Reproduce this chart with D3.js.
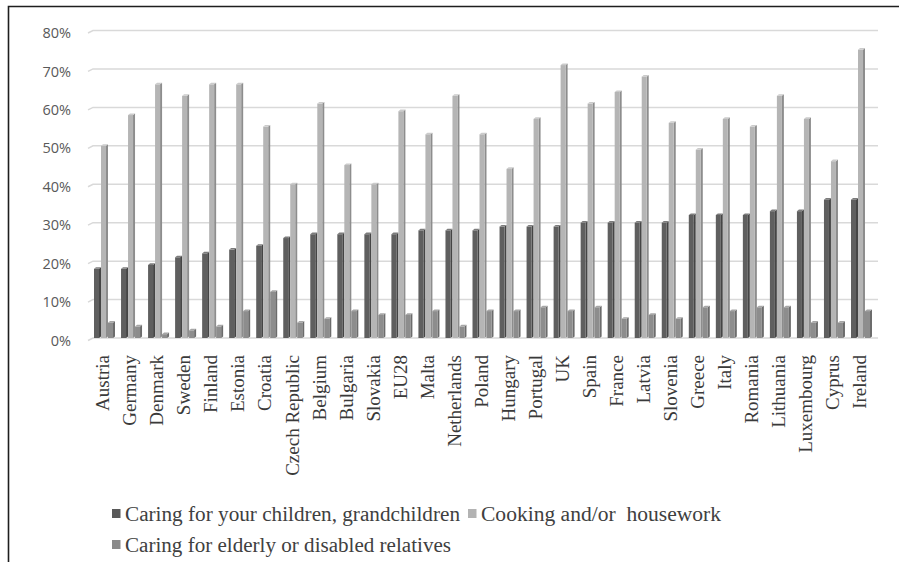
<!DOCTYPE html>
<html><head><meta charset="utf-8">
<script src="https://cdn.jsdelivr.net/npm/d3@7"></script>
<style>
body{margin:0;background:#fff}
text.serif{font-family:"Liberation Serif",serif !important}
text.sans{font-family:"Open Sans",sans-serif !important}
</style>
</head><body>
<svg id="c" width="899" height="562"></svg>
<script>
const categories = ["Austria","Germany","Denmark","Sweden","Finland","Estonia","Croatia","Czech Republic","Belgium","Bulgaria","Slovakia","EU28","Malta","Netherlands","Poland","Hungary","Portugal","UK","Spain","France","Latvia","Slovenia","Greece","Italy","Romania","Lithuania","Luxembourg","Cyprus","Ireland"];
const seriesNames = ["Caring for your children, grandchildren","Cooking and/or  housework","Caring for elderly or disabled relatives"];
const children = [18,18,19,21,22,23,24,26,27,27,27,27,28,28,28,29,29,29,30,30,30,30,32,32,32,33,33,36,36];
const cooking  = [50,58,66,63,66,66,55,40,61,45,40,59,53,63,53,44,57,71,61,64,68,56,49,57,55,63,57,46,75];
const elderly  = [4,3,1,2,3,7,12,4,5,7,6,6,7,3,7,7,8,7,8,5,6,5,8,7,8,8,4,4,7];
const yTicks = [0,10,20,30,40,50,60,70,80];
const yTickLabels = ["0%","10%","20%","30%","40%","50%","60%","70%","80%"];

const series = [children, cooking, elderly];
const palette = [
  {front:"#5f5f5f", side:"#454545", top:"#7c7c7c", legend:"#595959"},
  {front:"#b5b5b5", side:"#8d8d8d", top:"#cbcbcb", legend:"#b3b3b3"},
  {front:"#8d8d8d", side:"#6c6c6c", top:"#a6a6a6", legend:"#8a8a8a"}
];

const svg = d3.select("#c");

svg.append("path").attr("d","M8.5,562 L8.5,6.5 L899,6.5").attr("fill","none").attr("stroke","#1e1e1e").attr("stroke-width",1.6);

const y = d3.scaleLinear().domain([0,80]).range([338,30.5]);
const x = d3.scaleBand().domain(categories).range([89,877]).paddingInner(0.2234).paddingOuter(0.185);
const xs = d3.scaleBand().domain([0,1,2]).range([0,x.bandwidth()]);

yTicks.forEach(t=>{
  const yy = y(t);
  svg.append("path").attr("d",`M88,${yy+2.5} L93,${yy} L878,${yy}`)
    .attr("fill","none").attr("stroke","#d9d9d9").attr("stroke-width",1.5);
});
yTicks.forEach((t,i)=>{
  svg.append("text").attr("class","sans")
    .attr("x",71).attr("y",y(t)+2.5).attr("dy","0.35em")
    .attr("text-anchor","end")
    .attr("font-family","Open Sans").attr("font-size",14.5)
    .attr("fill","#595959")
    .text(yTickLabels[i]);
});

const dx=2, dyy=1.6;
categories.forEach((c,ci)=>{
  series.forEach((s,si)=>{
    const v = s[ci];
    const x0 = x(c)+xs(si);
    const w = xs.bandwidth()-dx;
    const yt = y(v), yb = y(0);
    const col = palette[si];
    svg.append("polygon")
      .attr("points",`${x0+w},${yt} ${x0+w+dx},${yt-dyy} ${x0+w+dx},${yb-dyy} ${x0+w},${yb}`)
      .attr("fill",col.side);
    svg.append("rect").attr("x",x0).attr("y",yt).attr("width",w).attr("height",yb-yt)
      .attr("fill",col.front);
    svg.append("polygon")
      .attr("points",`${x0},${yt} ${x0+dx},${yt-dyy} ${x0+w+dx},${yt-dyy} ${x0+w},${yt}`)
      .attr("fill",col.top);
  });
});

categories.forEach(c=>{
  svg.append("text").attr("class","serif")
    .attr("transform",`translate(${x(c)+x.bandwidth()/2-1.5},355) rotate(-90)`)
    .attr("dy","0.33em").attr("text-anchor","end")
    .attr("font-family","Liberation Serif").attr("font-size",19)
    .attr("fill","#3a3a3a")
    .text(c);
});

const legendItems = [
  {i:0, mx:112, tx:125, y:521, len:335},
  {i:1, mx:468, tx:481, y:521, len:240},
  {i:2, mx:112, tx:125, y:552, len:326}
];
legendItems.forEach(L=>{
  svg.append("rect").attr("x",L.mx).attr("y",L.y-12).attr("width",8.5).attr("height",9)
    .attr("fill",palette[L.i].legend);
  svg.append("text").attr("class","serif").attr("x",L.tx).attr("y",L.y)
    .attr("font-family","Liberation Serif").attr("font-size",20)
    .attr("fill","#404040").attr("textLength",L.len).attr("lengthAdjust","spacingAndGlyphs")
    .attr("xml:space","preserve")
    .text(seriesNames[L.i]);
});
</script>
</body></html>
